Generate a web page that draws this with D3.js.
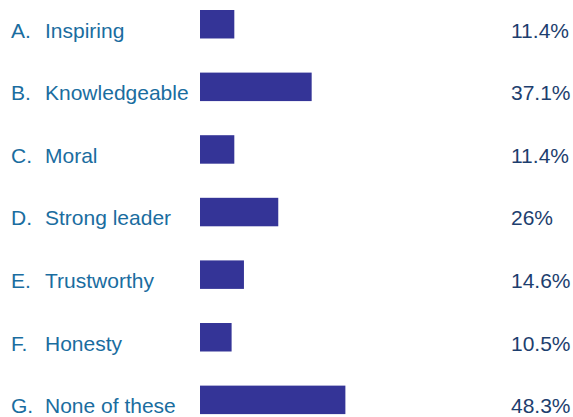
<!DOCTYPE html>
<html>
<head>
<meta charset="utf-8">
<script src="https://cdn.jsdelivr.net/npm/d3@7"></script>
<style>
  html, body { margin: 0; padding: 0; background: #fff; }
  svg { display: block; }
  text { font-family: "Liberation Sans", Arial, sans-serif; font-size: 21px; }
</style>
</head>
<body>
<svg id="chart" width="573" height="417"></svg>
<script>
const letters = ["A.", "B.", "C.", "D.", "E.", "F.", "G."];
const categories = ["Inspiring", "Knowledgeable", "Moral", "Strong leader", "Trustworthy", "Honesty", "None of these"];
const values = [11.4, 37.1, 11.4, 26, 14.6, 10.5, 48.3];

const svg = d3.select("#chart");

const y = d3.scaleBand()
  .domain(categories)
  .range([10, 414.1])
  .paddingInner(0.545)
  .paddingOuter(0)
  .align(0);

const x = d3.scaleLinear().domain([0, 100]).range([200, 501]);

const rows = svg.selectAll("g.row")
  .data(categories.map((c, i) => ({ cat: c, letter: letters[i], value: values[i] })))
  .join("g")
  .attr("class", "row");

rows.append("rect")
  .attr("x", x(0))
  .attr("y", d => y(d.cat))
  .attr("width", d => x(d.value) - x(0))
  .attr("height", y.bandwidth())
  .attr("fill", "#343497");

rows.append("text")
  .attr("x", 11)
  .attr("y", d => y(d.cat) + 27.5)
  .attr("fill", "#1a6d9f")
  .text(d => d.letter);

rows.append("text")
  .attr("x", 45)
  .attr("y", d => y(d.cat) + 27.5)
  .attr("fill", "#1a6d9f")
  .text(d => d.cat);

rows.append("text")
  .attr("x", 511)
  .attr("y", d => y(d.cat) + 27.5)
  .attr("fill", "#1d3e6e")
  .text(d => d.value + "%");
</script>
</body>
</html>
